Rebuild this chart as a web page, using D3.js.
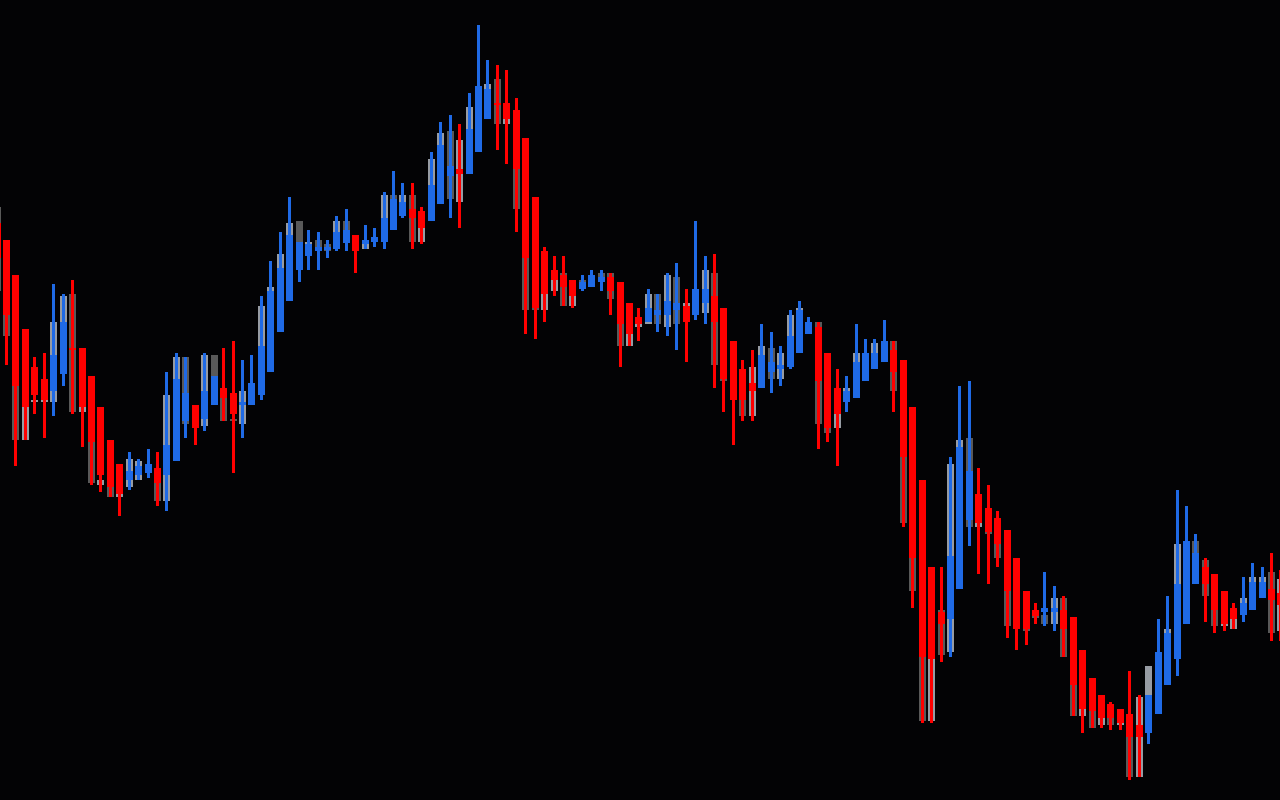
<!DOCTYPE html>
<html>
<head>
<meta charset="utf-8">
<script src="https://cdn.jsdelivr.net/npm/d3@7"></script>
<style>
html,body{margin:0;padding:0;background:#030305;overflow:hidden;}
svg{display:block;}
</style>
</head>
<body>
<svg id="chart" width="1280" height="800"></svg>
<script>
// Price series (arbitrary price units)
const open  = [577,560,525,471,433,421,409,426,452,452,424,393,360,336,320,325,327,332,325,339,379,395,381,395,412,407,395,395,405,428,468,499,530,544,549,550,551,557,565,556,558,558,570,584,591,589,579,596,624,631,626,648,681,697,697,690,662,603,549,530,525,520,511,513,518,523,518,497,483,478,485,485,490,494,485,497,504,492,459,431,417,412,428,431,433,447,466,473,447,412,398,402,419,431,438,450,440,393,320,233,188,181,211,280,306,292,282,270,242,209,190,188,188,190,183,150,122,105,96,91,86,75,67,86,115,141,176,216,233,226,209,192,185,190,202,211,207];
const high  = [577,560,525,471,443,447,516,506,520,452,424,393,360,336,348,341,351,348,428,447,443,395,447,424,452,459,440,445,504,539,568,603,558,570,568,560,584,591,565,575,572,608,629,617,617,593,648,678,685,676,707,775,740,735,730,702,662,603,553,544,544,520,525,530,530,527,518,497,492,511,506,527,537,511,579,544,546,492,459,440,450,476,468,454,490,499,483,478,447,431,424,476,461,461,480,459,440,393,320,233,233,343,414,419,332,315,289,270,242,209,197,228,214,204,183,150,122,105,98,91,129,105,105,181,204,310,294,266,242,226,209,197,223,237,233,247,230];
const low   = [542,435,334,360,386,362,384,414,386,353,315,308,303,284,310,320,322,294,289,339,362,355,369,395,379,327,362,395,400,428,468,499,518,530,530,542,549,549,527,551,553,551,570,582,551,556,579,596,582,572,626,648,681,650,636,568,466,461,478,504,494,492,509,513,509,485,433,454,459,478,468,464,450,438,480,476,412,388,355,379,379,412,407,414,431,447,466,351,358,334,388,402,419,431,438,388,273,192,77,77,138,143,211,254,226,216,233,162,150,155,176,174,169,143,84,67,72,72,70,70,20,23,56,86,115,124,176,216,178,167,169,171,178,190,202,159,159];
const close = [542,485,414,393,405,400,445,478,450,393,358,325,313,306,329,334,336,317,355,421,407,372,409,424,402,386,398,417,454,509,532,565,558,556,553,553,568,570,549,560,563,582,601,598,582,572,615,655,634,626,671,714,711,695,681,631,542,492,506,520,513,504,518,525,523,509,476,466,476,492,490,499,497,478,511,511,478,421,400,400,409,445,438,435,464,490,478,419,372,386,409,438,447,447,459,428,343,242,143,141,176,244,353,329,277,268,256,209,171,171,184,192,192,171,115,91,89,82,82,77,63,63,105,148,167,216,259,247,216,190,176,181,197,218,218,200,195];
// Background (grey) range series
const shadeHigh = [593,485,414,393,400,400,478,504,506,393,358,320,313,306,341,339,null,317,405,443,443,null,445,445,402,381,409,null,494,513,546,577,579,558,560,556,579,579,null,556,null,605,605,605,605,572,641,667,669,660,693,null,716,721,681,631,542,492,506,520,527,504,520,null,527,527,476,466,476,506,506,525,523,497,null,530,527,421,null,400,433,454,452,447,485,492,null,478,372,386,412,447,null,457,null,459,343,242,143,141,190,336,360,362,277,268,256,209,null,171,184,185,202,202,115,91,89,82,82,77,63,103,134,null,171,256,null,259,240,190,176,181,202,223,223,228,221];
const shadeLow  = [509,464,360,360,398,398,398,426,388,388,317,315,303,303,313,320,null,299,299,339,376,null,374,424,379,379,376,null,454,509,532,565,558,556,553,549,568,570,null,551,null,582,601,598,558,558,615,655,601,598,671,null,711,676,676,591,490,490,490,509,494,494,518,null,523,501,454,454,473,476,476,473,476,494,null,487,435,419,null,384,384,445,421,421,464,490,null,376,367,372,409,438,null,447,null,409,277,209,79,79,145,148,353,273,273,266,242,174,null,169,182,176,176,143,84,84,72,75,75,75,23,23,105,null,167,216,null,247,204,174,174,171,197,218,218,167,169];
const shadeTone = ['D','D','D','L','L','L','L','L','D','L','D','L','D','L','L','L',null,'D','L','L','D',null,'L','D','D','D','L',null,'L','L','L','L','D','L','D','D','L','D',null,'L',null,'L','D','L','D','L','L','L','D','L','L',null,'L','D','L','D','D','D','L','L','D','L','D',null,'D','D','D','L','L','L','D','L','D','L',null,'L','D','D',null,'D','L','L','D','L','L','L',null,'D','D','L','L','L',null,'L',null,'D','D','D','D','L','D','L','L','D','L','D','D','D',null,'D','D','D','L','D','D','L','D','L','D','L','D','L','L',null,'L','L',null,'D','D','D','L','L','L','L','L','D','L'];
// Bar index (category) — first bar is partly off-screen on the left
const bars = d3.range(-1, 136);

const colors = {up:'#1f6ae6', down:'#ff0000', L:'#979ca4', D:'#595959'};

const W = 1280, H = 800;
const svg = d3.select('#chart');
svg.append('rect').attr('width', W).attr('height', H).attr('fill', '#030305');

const x = d3.scaleLinear().domain([-1, 135]).range([-2.94, 6.5 + 135 * 9.44]);
const y = d3.scaleLinear().domain([0, 800]).range([H, 0]);
const bodyW = 7, wickW = 3;

const data = bars.map((b, i) => ({
  b, o: open[i], h: high[i], l: low[i], c: close[i],
  sh: shadeHigh[i], sl: shadeLow[i], st: shadeTone[i]
}));

const g = svg.append('g').attr('shape-rendering', 'crispEdges');

// grey range boxes (behind)
g.append('g').selectAll('rect').data(data.filter(d => d.st))
  .join('rect')
  .attr('x', d => Math.round(x(d.b) - bodyW / 2))
  .attr('width', bodyW)
  .attr('y', d => y(d.sh))
  .attr('height', d => Math.max(1, y(d.sl) - y(d.sh)))
  .attr('fill', d => colors[d.st]);

// wicks
g.append('g').selectAll('rect').data(data)
  .join('rect')
  .attr('x', d => Math.round(x(d.b) - wickW / 2))
  .attr('width', wickW)
  .attr('y', d => y(d.h))
  .attr('height', d => Math.max(1, y(d.l) - y(d.h)))
  .attr('fill', d => d.c >= d.o ? colors.up : colors.down);

// bodies
g.append('g').selectAll('rect').data(data)
  .join('rect')
  .attr('x', d => Math.round(x(d.b) - bodyW / 2))
  .attr('width', bodyW)
  .attr('y', d => y(Math.max(d.o, d.c)))
  .attr('height', d => Math.max(1, Math.abs(y(d.o) - y(d.c))))
  .attr('fill', d => d.c >= d.o ? colors.up : colors.down);
</script>
</body>
</html>
